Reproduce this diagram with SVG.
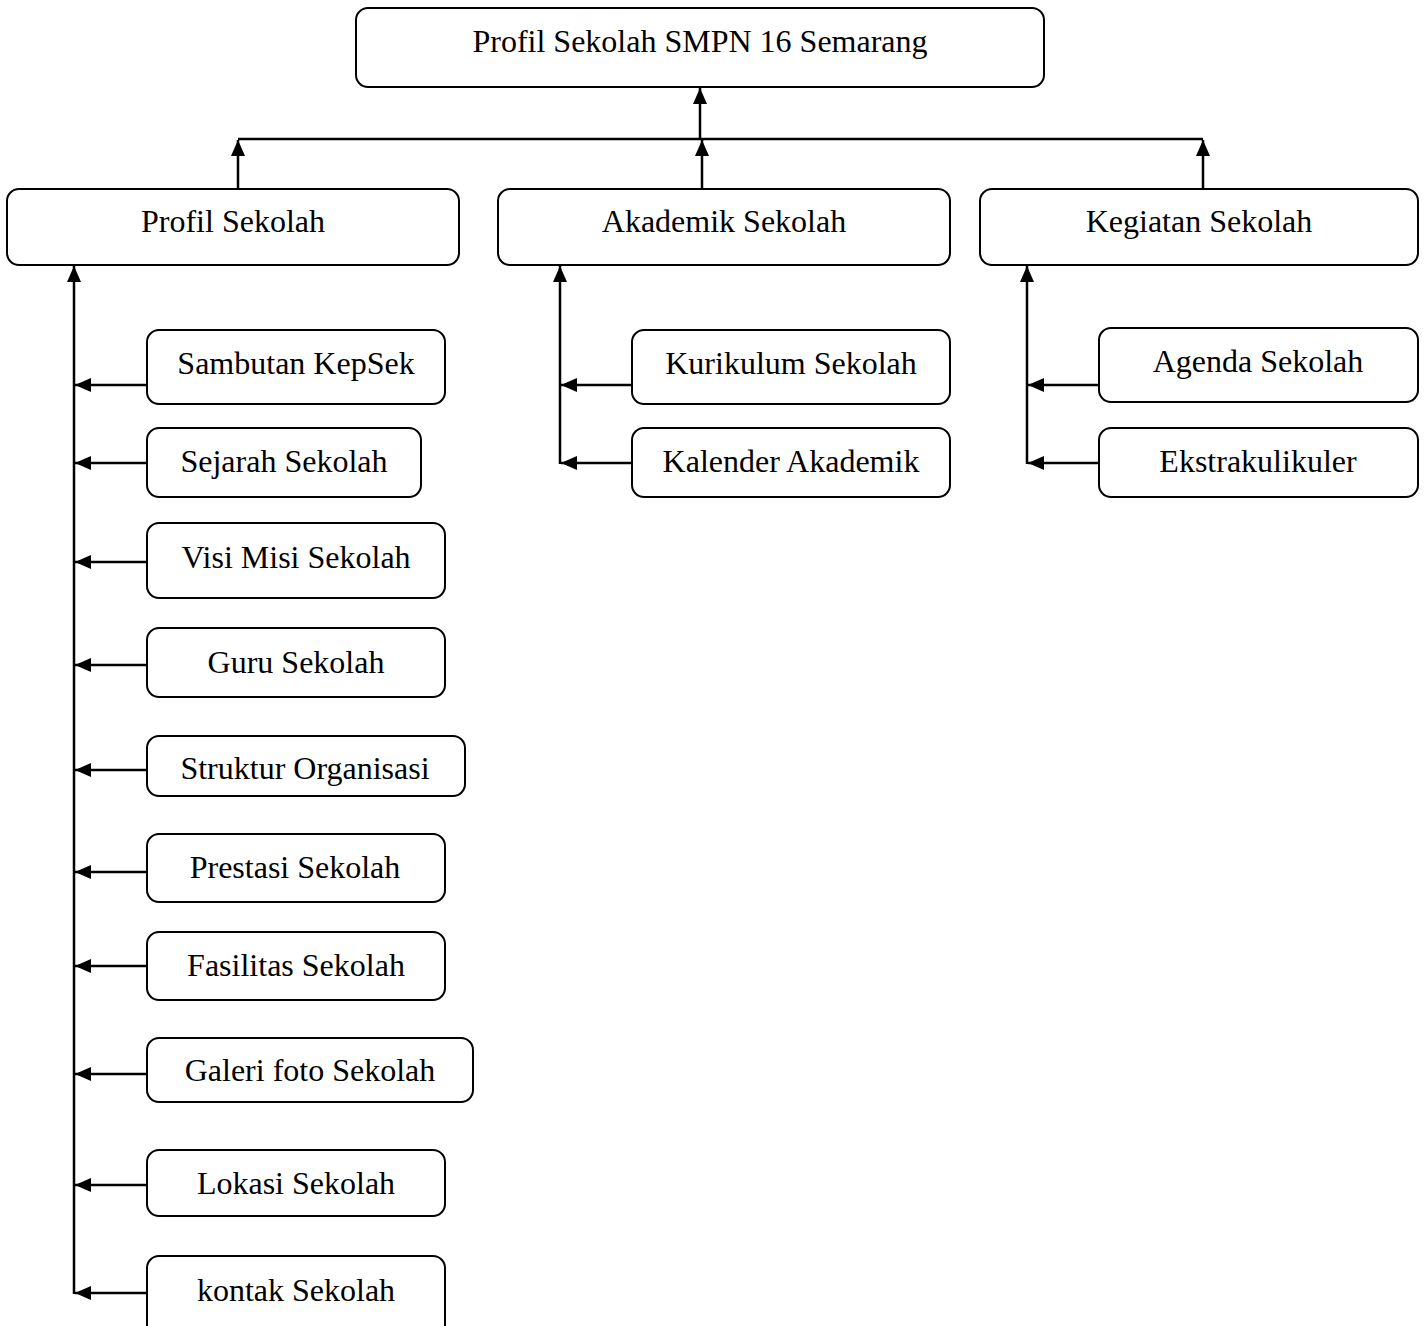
<svg xmlns="http://www.w3.org/2000/svg" width="1427" height="1326" viewBox="0 0 1427 1326">
<style>
.box{fill:#fff;stroke:#000;stroke-width:2}
.lbl{font-family:"Liberation Serif","Times New Roman",serif;font-size:32px;fill:#000;text-anchor:middle}
.ln{fill:none;stroke:#000;stroke-width:2.5}
</style>
<defs>
<marker id="ah" viewBox="0 0 16 14" refX="16" refY="7" markerWidth="16" markerHeight="14" markerUnits="userSpaceOnUse" orient="auto">
<path d="M0,0 L16,7 L0,14 z" fill="#000"/>
</marker>
</defs>
<rect width="1427" height="1326" fill="#fff"/>
<g id="connectors">
<line class="ln" x1="238" y1="139" x2="1203" y2="139"/>
<line class="ln" x1="700" y1="139" x2="700" y2="88" marker-end="url(#ah)"/>
<line class="ln" x1="238" y1="189" x2="238" y2="140" marker-end="url(#ah)"/>
<line class="ln" x1="702" y1="189" x2="702" y2="140" marker-end="url(#ah)"/>
<line class="ln" x1="1203" y1="189" x2="1203" y2="140" marker-end="url(#ah)"/>
<line class="ln" x1="74" y1="1294" x2="74" y2="266" marker-end="url(#ah)"/>
<line class="ln" x1="147" y1="385" x2="75" y2="385" marker-end="url(#ah)"/>
<line class="ln" x1="147" y1="463" x2="75" y2="463" marker-end="url(#ah)"/>
<line class="ln" x1="147" y1="562" x2="75" y2="562" marker-end="url(#ah)"/>
<line class="ln" x1="147" y1="665" x2="75" y2="665" marker-end="url(#ah)"/>
<line class="ln" x1="147" y1="770" x2="75" y2="770" marker-end="url(#ah)"/>
<line class="ln" x1="147" y1="872" x2="75" y2="872" marker-end="url(#ah)"/>
<line class="ln" x1="147" y1="966" x2="75" y2="966" marker-end="url(#ah)"/>
<line class="ln" x1="147" y1="1074" x2="75" y2="1074" marker-end="url(#ah)"/>
<line class="ln" x1="147" y1="1185" x2="75" y2="1185" marker-end="url(#ah)"/>
<line class="ln" x1="147" y1="1293" x2="75" y2="1293" marker-end="url(#ah)"/>
<line class="ln" x1="560" y1="464" x2="560" y2="266" marker-end="url(#ah)"/>
<line class="ln" x1="632" y1="385" x2="561" y2="385" marker-end="url(#ah)"/>
<line class="ln" x1="632" y1="463" x2="561" y2="463" marker-end="url(#ah)"/>
<line class="ln" x1="1027" y1="464" x2="1027" y2="266" marker-end="url(#ah)"/>
<line class="ln" x1="1099" y1="385" x2="1028" y2="385" marker-end="url(#ah)"/>
<line class="ln" x1="1099" y1="463" x2="1028" y2="463" marker-end="url(#ah)"/>
</g>
<g id="n-root"><rect class="box" x="356" y="8" width="688" height="79" rx="12"/><text class="lbl" x="700" y="52">Profil Sekolah SMPN 16 Semarang</text></g>
<g id="n-profil"><rect class="box" x="7" y="189" width="452" height="76" rx="12"/><text class="lbl" x="233" y="232">Profil Sekolah</text></g>
<g id="n-akademik"><rect class="box" x="498" y="189" width="452" height="76" rx="12"/><text class="lbl" x="724" y="232">Akademik Sekolah</text></g>
<g id="n-kegiatan"><rect class="box" x="980" y="189" width="438" height="76" rx="12"/><text class="lbl" x="1199" y="232">Kegiatan Sekolah</text></g>
<g id="n-sambutan"><rect class="box" x="147" y="330" width="298" height="74" rx="12"/><text class="lbl" x="296" y="374">Sambutan KepSek</text></g>
<g id="n-sejarah"><rect class="box" x="147" y="428" width="274" height="69" rx="12"/><text class="lbl" x="284" y="472">Sejarah Sekolah</text></g>
<g id="n-visi"><rect class="box" x="147" y="523" width="298" height="75" rx="12"/><text class="lbl" x="296" y="568">Visi Misi Sekolah</text></g>
<g id="n-guru"><rect class="box" x="147" y="628" width="298" height="69" rx="12"/><text class="lbl" x="296" y="673">Guru Sekolah</text></g>
<g id="n-struktur"><rect class="box" x="147" y="736" width="318" height="60" rx="12"/><text class="lbl" x="305" y="779">Struktur Organisasi</text></g>
<g id="n-prestasi"><rect class="box" x="147" y="834" width="298" height="68" rx="12"/><text class="lbl" x="295" y="878">Prestasi Sekolah</text></g>
<g id="n-fasilitas"><rect class="box" x="147" y="932" width="298" height="68" rx="12"/><text class="lbl" x="296" y="976">Fasilitas Sekolah</text></g>
<g id="n-galeri"><rect class="box" x="147" y="1038" width="326" height="64" rx="12"/><text class="lbl" x="310" y="1081">Galeri foto Sekolah</text></g>
<g id="n-lokasi"><rect class="box" x="147" y="1150" width="298" height="66" rx="12"/><text class="lbl" x="296" y="1194">Lokasi Sekolah</text></g>
<g id="n-kontak"><rect class="box" x="147" y="1256" width="298" height="90" rx="12"/><text class="lbl" x="296" y="1301">kontak Sekolah</text></g>
<g id="n-kurikulum"><rect class="box" x="632" y="330" width="318" height="74" rx="12"/><text class="lbl" x="791" y="374">Kurikulum Sekolah</text></g>
<g id="n-kalender"><rect class="box" x="632" y="428" width="318" height="69" rx="12"/><text class="lbl" x="791" y="472">Kalender Akademik</text></g>
<g id="n-agenda"><rect class="box" x="1099" y="328" width="319" height="74" rx="12"/><text class="lbl" x="1258" y="372">Agenda Sekolah</text></g>
<g id="n-ekstra"><rect class="box" x="1099" y="428" width="319" height="69" rx="12"/><text class="lbl" x="1258" y="472">Ekstrakulikuler</text></g>
</svg>
